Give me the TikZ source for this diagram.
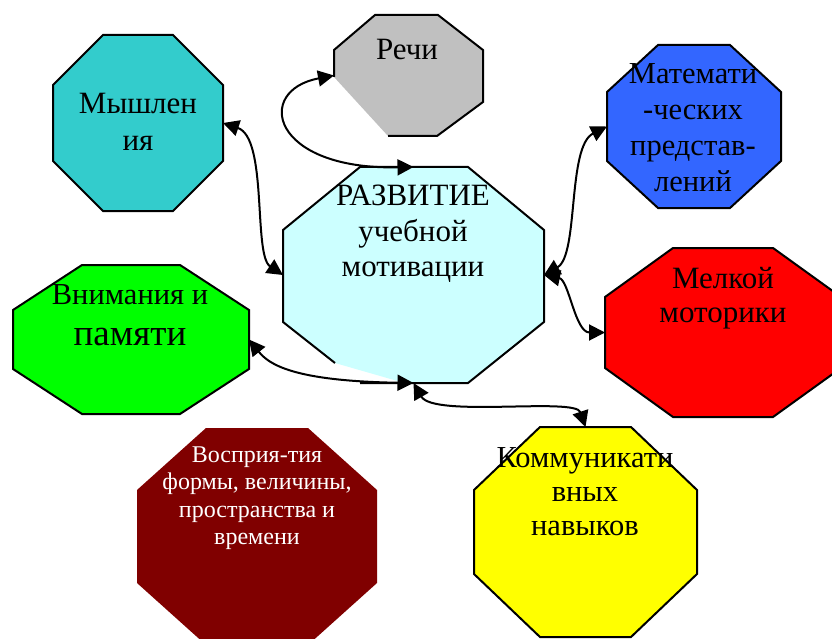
\documentclass[tikz,border=0pt]{standalone}
\usepackage{fontspec}
\setmainfont{Liberation Serif}
\usetikzlibrary{arrows.meta}
\definecolor{cTeal}{HTML}{33CCCC}
\definecolor{cGray}{HTML}{C0C0C0}
\definecolor{cCyan}{HTML}{CCFFFF}
\definecolor{cBlue}{HTML}{3366FF}
\definecolor{cRed}{HTML}{FF0000}
\definecolor{cGreen}{HTML}{00FF00}
\definecolor{cMaroon}{HTML}{800000}
\definecolor{cYellow}{HTML}{FFFF00}
% #1 style, #2 name, #3 xl, #4 yt, #5 xr, #6 yb, #7 dx, #8 dy
\newcommand\octo[8][]{%
  \node[octframe,minimum width={(#5-#3)*1pt},minimum height={(#6-#4)*1pt}] (#2) at ({(#3+#5)/2},{(#4+#6)/2}) {};
  \path[#1] ({#3+#7},#4) -- ({#5-#7},#4) -- (#5,{#4+#8}) -- (#5,{#6-#8}) -- ({#5-#7},#6) -- ({#3+#7},#6) -- (#3,{#6-#8}) -- (#3,{#4+#8}) -- cycle;
}
\newcommand\framenode[5]{%
  \node[octframe,minimum width={(#4-#2)*1pt},minimum height={(#5-#3)*1pt}] (#1) at ({(#2+#4)/2},{(#3+#5)/2}) {};
}
\begin{document}
\begin{tikzpicture}[x=1pt,y=-1pt,
  octframe/.style={shape=rectangle,draw=none,inner sep=0pt,outer sep=0pt},
  oct/.style={draw=black,line width=2pt,line join=miter},
  lab/.style={align=center,inner sep=0pt,text=black},
  conn/.style={line width=2pt,{Triangle[length=16pt,width=16pt]}-{Triangle[length=16pt,width=16pt]}}]
\useasboundingbox[fill=white] (0,0) rectangle (832,639);

\octo[oct,fill=cTeal]{think}{53}{35}{223}{211}{50}{50}
\octo[oct,fill=cBlue]{math}{607}{45}{781}{208}{51}{47}
\octo[oct,fill=cRed]{motor}{605}{248}{841}{417}{68}{49}
\octo[oct,fill=cGreen]{attn}{13}{265}{249}{414}{69}{45}
\octo[fill=cMaroon]{perc}{137}{428}{377}{645}{69}{62}
\octo[oct,fill=cYellow]{comm}{474}{427}{697}{637}{66}{63}

% speech octagon (lower-left corner cut away)
\framenode{speech}{334}{15}{483}{136}
\fill[cGray] (375,15) -- (438,15) -- (483,50) -- (483,102) -- (437,136) -- (388,136) -- (334,77) -- (334,50) -- cycle;
\draw[oct] (334,77) -- (334,50) -- (375,15) -- (438,15) -- (483,50) -- (483,102) -- (437,136) -- (388,136);

% central octagon (small white wedge at lower left)
\framenode{dev}{283}{167}{544}{383}
\fill[cCyan] (360,167) -- (468,167) -- (544,230) -- (544,322) -- (468,383) -- (401,382) -- (335,363) -- (283,322) -- (283,230) -- cycle;
\draw[oct] (335,363) -- (283,322) -- (283,230) -- (360,167) -- (468,167) -- (544,230) -- (544,322) -- (468,383) -- (360,383);

% labels
\node[lab,font=\fontsize{31}{37}\selectfont] (think-t) at (138,122) {Мышлен\\ия};
\node[lab,font=\fontsize{31}{36}\selectfont] (speech-t) at (407,50) {Речи};
\node[lab,font=\fontsize{31}{35.5}\selectfont] (dev-t) at (413,234) {РАЗВИТИЕ\\учебной\\мотивации};
\node[lab,font=\fontsize{30.5}{36}\selectfont] (math-t) at (693,128) {Математи\\-ческих\\представ-\\лений};
\node[lab,font=\fontsize{31}{34.5}\selectfont] (motor-t) at (723,298) {Мелкой\\моторики};
\node[lab,font=\fontsize{30.5}{35}\selectfont,anchor=base] (attn-t1) at (130,304) {Внимания и};
\node[lab,font=\fontsize{37}{41}\selectfont,anchor=base] (attn-t2) at (130,345) {памяти};
\node[lab,font=\fontsize{30.5}{34}\selectfont] (comm-t) at (585,492) {Коммуникати\\вных\\навыков};
\node[lab,text=white,font=\fontsize{24}{27.5}\selectfont] (perc-t) at (257,498) {Восприя-тия\\формы, величины,\\пространства и\\времени};

% connectors
\draw[conn] (speech.west) .. controls +(-80,15) and +(-143,3) .. (dev.north);
\draw[conn] (think.east) .. controls +(45,15) and +(-30,-20) .. (dev.west);
\draw[conn] (dev.east) .. controls +(35,-20) and +(-40,20) .. (math.west);
\draw[conn] (dev.east) .. controls +(25,5) and +(-30,0) .. (motor.west);
\draw[conn] (attn.east) .. controls +(20,25) and +(-120,-2) .. (dev.south);
\draw[conn] (dev.south) .. controls +(20,35) and +(-10,-30) .. (comm.north);
\end{tikzpicture}
\end{document}
